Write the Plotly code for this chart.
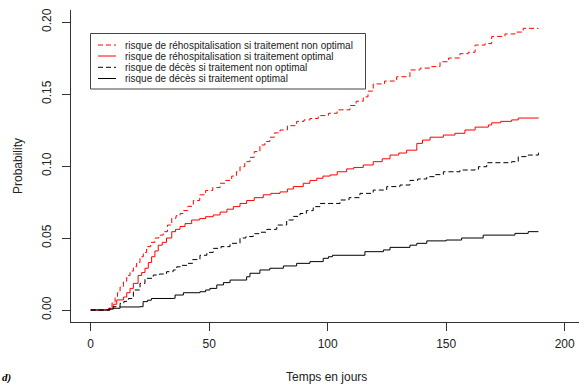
import plotly.graph_objects as go

# ---- data ----
rh_nonopt_t = [0, 7.5, 9, 10.3, 11.3, 12.4, 13.8, 15.2, 16.6, 18, 19.4, 20.8, 22.2, 23.6, 25.3, 27.1, 28.8, 30.6,
               32.4, 34.2, 36, 37.7, 39, 41, 43.3,
               46, 48.5, 51.5, 54.6, 57, 59.5, 61.5, 63, 65, 67.2, 69, 71.4, 73.5, 75.6, 77.5, 79.9, 83, 86.9, 90,
               92.5, 96, 100.3, 104, 109.4, 112, 115, 117, 119.2, 124, 129.1, 134.7, 139, 143.2, 147.4, 151, 155.8,
               159.3, 162.2, 166.4, 169.2, 174.8, 179, 182.5, 188.9]
rh_nonopt_v = [0, 0.0012, 0.005, 0.009, 0.012, 0.016, 0.020, 0.024, 0.027, 0.030, 0.033, 0.037, 0.040, 0.044, 0.047,
               0.050, 0.052, 0.0544, 0.059, 0.0637, 0.0655, 0.067, 0.069, 0.072, 0.076,
               0.080, 0.083, 0.085, 0.088, 0.090, 0.093, 0.096, 0.0995, 0.103,
               0.106, 0.110, 0.1146, 0.117, 0.120, 0.123, 0.125, 0.128, 0.131, 0.132, 0.133, 0.135, 0.1366, 0.139,
               0.142, 0.145, 0.148, 0.152, 0.157, 0.159, 0.162, 0.1667, 0.168, 0.169, 0.1724, 0.175, 0.178, 0.179,
               0.184, 0.185, 0.190, 0.1917, 0.193, 0.1956, 0.1956]

rh_opt_t = [0, 7.8, 9.5, 11, 13.8, 15.2, 16.6, 18, 20, 21.5, 22.9, 24.3, 25.7, 27.1, 28.5, 30.2, 32, 34.2, 35.8,
            37.7, 39.8,
            42.6, 46, 48.5, 51.7, 54.6, 57.5, 60.2, 63, 65.8, 69, 72.8, 76, 79.9, 83, 85.5, 89.7, 92.5, 95.4, 98,
            101, 104, 108, 111, 115, 119.2, 123, 126.3, 130, 133.3, 137.6, 140, 143.2, 148.8, 153.7, 157.9, 162.2,
            167.8, 169.2, 173, 177.6, 180.4, 188.9]
rh_opt_v = [0, 0.0012, 0.004, 0.007, 0.009, 0.012, 0.015, 0.0185, 0.024, 0.026, 0.029, 0.033, 0.037, 0.041, 0.045,
            0.047, 0.050, 0.0544, 0.056, 0.058, 0.060,
            0.0625, 0.0635, 0.0648, 0.066, 0.068, 0.070, 0.0718, 0.074, 0.076,
            0.078, 0.080, 0.081, 0.082, 0.084, 0.0857, 0.088, 0.090, 0.0915, 0.093, 0.0938, 0.096, 0.098, 0.099,
            0.1007, 0.103, 0.105, 0.1076, 0.109, 0.111, 0.1157, 0.118, 0.120, 0.1215, 0.1227, 0.125, 0.127, 0.1285,
            0.130, 0.131, 0.132, 0.1333, 0.1335]

dc_nonopt_t = [0, 8.1, 9.5, 12.4, 14, 15.9, 18, 20.8, 22.9, 26.4, 29, 32, 34.8, 36.3, 38.5, 40.6, 43, 46.1, 49,
               51.7, 55,
               58.8, 63, 65.5, 68.6, 71, 74.3, 78.5, 82.7, 85.5, 88.3, 91, 93.9, 96.8, 101, 105.2, 109, 113.6,
               119.2, 124.9, 130.5, 134.7, 138, 141.8, 145, 148.8, 155.8, 162.2, 163.6, 167.1, 177.6, 180.4, 184.6,
               188.9]
dc_nonopt_v = [0, 0.0012, 0.0023, 0.0046, 0.006, 0.008, 0.0139, 0.0185, 0.022, 0.0243, 0.025, 0.0266, 0.0278,
               0.030, 0.031, 0.0324, 0.035, 0.038, 0.040, 0.0428, 0.044,
               0.0463, 0.050, 0.051, 0.053, 0.054, 0.056, 0.059, 0.0625,
               0.065, 0.067, 0.069, 0.0718, 0.074, 0.074, 0.0764, 0.078, 0.081, 0.0833, 0.0857, 0.0868, 0.090, 0.091,
               0.0926, 0.094, 0.096, 0.0972, 0.0977, 0.0995, 0.1023, 0.103, 0.1065, 0.1076, 0.110]

dc_opt_t = [0, 8.2, 9.5, 12.4, 20.8, 22.1, 24, 25.6, 34.9, 35.6, 39.1, 46.1, 48.5, 50.3, 53.2, 56, 58.8, 65.8, 67.2,
            71.4, 75.6, 81.3, 86.9, 92.5, 98.1, 100.3, 102, 115.7, 123.5, 126.3, 134.7, 137.6, 141.8, 150, 156.5,
            165.6, 179, 184.6, 188.9]
dc_opt_v = [0, 0.0006, 0.0012, 0.0021, 0.0023, 0.0058, 0.0068, 0.008, 0.0081, 0.0104, 0.012, 0.0127, 0.0139, 0.015,
            0.0174, 0.019, 0.0208, 0.0231, 0.0255, 0.0278, 0.029, 0.0306, 0.0324, 0.0336, 0.0359, 0.037, 0.038,
            0.0405, 0.0417, 0.0435, 0.045, 0.0463, 0.048, 0.0486, 0.050, 0.052, 0.0532, 0.0544, 0.0544]

series_names = ["risque de réhospitalisation si traitement non optimal",
                "risque de réhospitalisation si traitement optimal",
                "risque de décès si traitement non optimal",
                "risque de décès si traitement optimal"]
series_t = [rh_nonopt_t, rh_opt_t, dc_nonopt_t, dc_opt_t]
series_v = [rh_nonopt_v, rh_opt_v, dc_nonopt_v, dc_opt_v]
series_colors = ["#ff0000", "#ff0000", "#000000", "#000000"]
series_dash = ["5px,3px", "solid", "5px,3px", "solid"]

x_ticks = [0, 50, 100, 150, 200]
y_ticks = [0.0, 0.05, 0.10, 0.15, 0.20]
y_ticktext = ["0.00", "0.05", "0.10", "0.15", "0.20"]

FONT = "Liberation Sans, Arial, sans-serif"
TXT = "#222222"

fig = go.Figure()
for name, t, v, c, d in zip(series_names, series_t, series_v, series_colors, series_dash):
    fig.add_trace(go.Scatter(x=t, y=v, mode="lines", name=name,
                             line=dict(color=c, width=1, dash=d, shape="hv"),
                             showlegend=False, hoverinfo="skip"))

# plot area: x px 71..579, y px 10..322
W_PLOT = 508.0
H_PLOT = 312.0
def px(xp):
    return (xp - 71) / W_PLOT
def py(yp):
    return (322 - yp) / H_PLOT

shapes = []
annotations = []
# legend box
shapes.append(dict(type="rect", xref="paper", yref="paper",
                   x0=px(90.5), x1=px(365.5), y0=py(89), y1=py(33.5),
                   line=dict(color="#444444", width=1), fillcolor="rgba(0,0,0,0)"))
row_y = [45, 56, 67.3, 78.5]
for i, (name, c, d) in enumerate(zip(series_names, series_colors, series_dash)):
    shapes.append(dict(type="line", xref="paper", yref="paper",
                       x0=px(98), x1=px(116), y0=py(row_y[i]), y1=py(row_y[i]),
                       line=dict(color=c, width=1, dash=d)))
    annotations.append(dict(text=name, xref="paper", yref="paper", x=px(122.5), y=py(row_y[i]),
                            xanchor="left", yanchor="middle", showarrow=False,
                            font=dict(family=FONT, size=10, color=TXT)))

# axis titles
annotations.append(dict(text="Temps en jours", xref="paper", yref="paper", x=px(326.5), y=py(377),
                        xanchor="center", yanchor="middle", showarrow=False,
                        font=dict(family=FONT, size=12, color=TXT)))
annotations.append(dict(text="Probability", xref="paper", yref="paper", x=px(18), y=py(166),
                        xanchor="center", yanchor="middle", showarrow=False, textangle=-90,
                        font=dict(family=FONT, size=12, color=TXT)))
annotations.append(dict(text="<b><i>d)</i></b>", xref="paper", yref="paper", x=px(0), y=py(386),
                        xanchor="left", yanchor="bottom", showarrow=False,
                        font=dict(family="Liberation Serif, serif", size=11, color="#000000")))

fig.update_layout(
    width=579, height=387,
    margin=dict(l=71, r=0, t=10, b=65, pad=0),
    plot_bgcolor="white", paper_bgcolor="white",
    shapes=shapes, annotations=annotations,
    font=dict(family=FONT, size=12, color=TXT),
)
fig.update_xaxes(range=[-8.31, 206.03], tickvals=x_ticks, ticks="outside", ticklen=8, tickwidth=1,
                 tickcolor="#333333", showline=True, linecolor="#333333", linewidth=1,
                 showgrid=False, zeroline=False, ticklabelstandoff=3,
                 tickfont=dict(family=FONT, size=12, color=TXT))
fig.update_yaxes(range=[-0.00833, 0.20833], tickvals=y_ticks, ticktext=y_ticktext, tickangle=-90,
                 ticks="outside", ticklen=8, tickwidth=1, tickcolor="#333333", showline=True,
                 linecolor="#333333", linewidth=1, showgrid=False, zeroline=False, ticklabelstandoff=6,
                 tickfont=dict(family=FONT, size=12, color=TXT))

fig.write_html("out.html")
